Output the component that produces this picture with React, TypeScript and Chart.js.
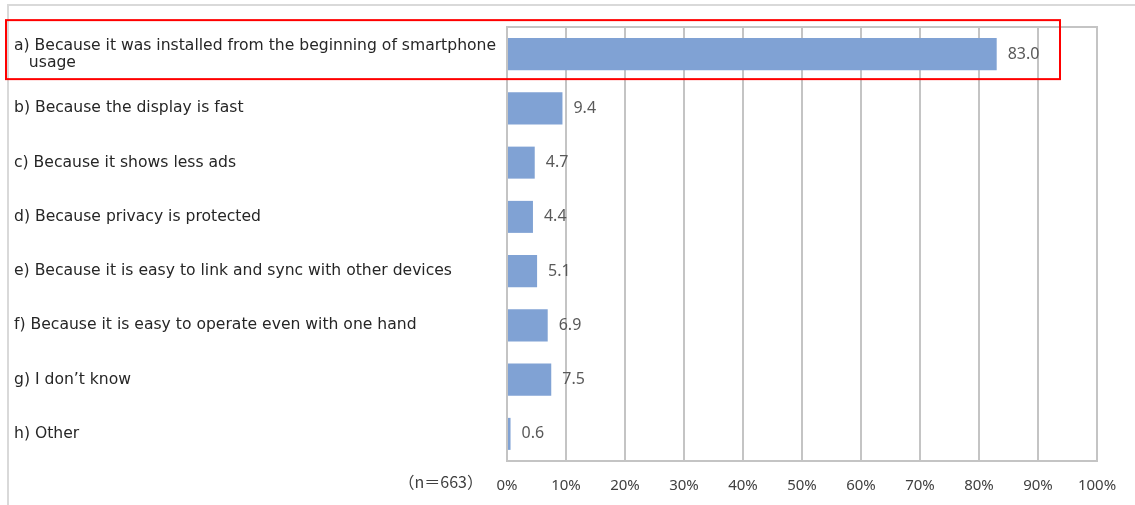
import React, { useEffect, useRef } from "react";
import { Chart, registerables } from "chart.js";

Chart.register(...registerables);

const categories: (string | string[])[] = [
  ["a) Because it was installed from the beginning of smartphone", "   usage"],
  "b) Because the display is fast",
  "c) Because it shows less ads",
  "d) Because privacy is protected",
  "e) Because it is easy to link and sync with other devices",
  "f) Because it is easy to operate even with one hand",
  "g) I don\u2019t know",
  "h) Other",
];
const values = [83.0, 9.4, 4.7, 4.4, 5.1, 6.9, 7.5, 0.6];
const xTicks = [0, 10, 20, 30, 40, 50, 60, 70, 80, 90, 100];
const sampleNote = "\uFF08n\uFF1D663\uFF09";

const FONT = "'Noto Sans', 'DejaVu Sans', sans-serif";
const LABEL_FONT = "'DejaVu Sans', 'Noto Sans', sans-serif";
const CJK_FONT = "'Noto Sans CJK JP', 'Noto Sans', sans-serif";

const extrasPlugin = {
  id: "extras",
  beforeDatasetsDraw(chart: any) {
    const { ctx, chartArea } = chart;
    ctx.save();
    ctx.strokeStyle = "#c4c4c4";
    ctx.lineWidth = 2;
    ctx.strokeRect(chartArea.left, chartArea.top, chartArea.right - chartArea.left, chartArea.bottom - chartArea.top);
    ctx.restore();
  },
  afterDatasetsDraw(chart: any) {
    const { ctx, scales } = chart;
    const meta = chart.getDatasetMeta(0);
    ctx.save();
    ctx.font = `16px ${FONT}`;
    ctx.fillStyle = "#595959";
    ctx.textAlign = "left";
    ctx.textBaseline = "middle";
    meta.data.forEach((bar: any, i: number) => {
      ctx.fillText(values[i].toFixed(1), bar.x + 11, bar.y);
    });
    // sample size note
    ctx.fillStyle = "#404040";
    ctx.textAlign = "right";
    ctx.font = `16px ${CJK_FONT}`;
    ctx.fillText(sampleNote, scales.x.left - 24, scales.x.top + 21);
    // highlight box
    const yc = scales.y.getPixelForValue(0);
    ctx.strokeStyle = "#ff0000";
    ctx.lineWidth = 2;
    ctx.strokeRect(6, yc - 34, 1060 - 6, 59);
    ctx.restore();
  },
};

export default function App() {
  const ref = useRef<HTMLCanvasElement>(null);
  useEffect(() => {
    if (!ref.current) return;
    const chart = new Chart(ref.current, {
      type: "bar",
      data: {
        labels: categories,
        datasets: [
          {
            data: values,
            backgroundColor: "#80a2d4",
            borderWidth: 0,
            barPercentage: 0.59,
            categoryPercentage: 1,
          },
        ],
      },
      options: {
        indexAxis: "y",
        animation: false,
        responsive: false,
        layout: { padding: { left: 14, right: 38, top: 27, bottom: 0 } },
        plugins: { legend: { display: false }, tooltip: { enabled: false } },
        scales: {
          x: {
            min: 0,
            max: 100,
            afterBuildTicks: (scale: any) => {
              scale.ticks = xTicks.map((v) => ({ value: v }));
            },
            afterFit: (scale: any) => {
              scale.height = 44;
            },
            grid: { color: "#c4c4c4", lineWidth: 2, drawTicks: false },
            border: { display: true, color: "#c4c4c4", width: 2 },
            ticks: {
              padding: 16,
              color: "#404040",
              font: { family: FONT, size: 15 },
              callback: (v: any) => `${v}%`,
              maxRotation: 0,
            },
          },
          y: {
            afterFit: (scale: any) => {
              scale.width = 493;
            },
            grid: { display: false, drawTicks: false },
            border: { display: false },
            ticks: {
              crossAlign: "far",
              padding: 0,
              color: "#262626",
              font: { family: LABEL_FONT, size: 15.6, lineHeight: 1.1 },
              autoSkip: false,
            },
          },
        },
      },
      plugins: [extrasPlugin],
    } as any);
    return () => chart.destroy();
  }, []);

  return (
    <div style={{ position: "absolute", left: 0, top: 0, width: 1135, height: 505, background: "#fff" }}>
      <div
        style={{
          position: "absolute",
          left: 7,
          top: 4,
          right: 0,
          bottom: 0,
          borderTop: "2px solid #d9d9d9",
          borderLeft: "2px solid #d9d9d9",
        }}
      />
      <canvas ref={ref} width={1135} height={505} style={{ position: "absolute", left: 0, top: 0 }} />
    </div>
  );
}
